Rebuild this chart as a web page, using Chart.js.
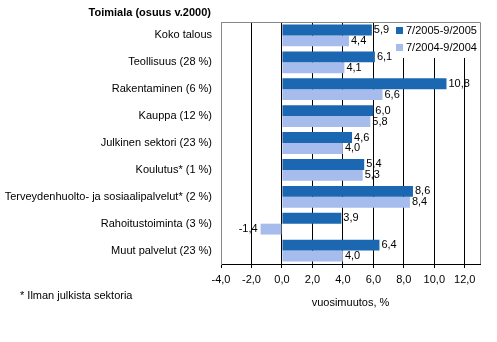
<!DOCTYPE html>
<html>
<head>
<meta charset="utf-8">
<script src="https://cdn.jsdelivr.net/npm/chart.js@4"></script>
<style>
  body { margin: 0; background: #fff; }
  #wrap { width: 497px; height: 342px; }
</style>
</head>
<body>
<div id="wrap"><canvas id="kuvio" width="497" height="342"></canvas></div>
<script>
// toimialat ja vuosimuutokset
let toimialat = ['Koko talous', 'Teollisuus (28 %)', 'Rakentaminen (6 %)', 'Kauppa (12 %)',
    'Julkinen sektori (23 %)', 'Koulutus* (1 %)', 'Terveydenhuolto- ja sosiaalipalvelut* (2 %)',
    'Rahoitustoiminta (3 %)', 'Muut palvelut (23 %)'];
let jakso2005 = [5.9, 6.1, 10.8, 6.0, 4.6, 5.4, 8.6, 3.9, 6.4];
let jakso2004 = [4.4, 4.1, 6.6, 5.8, 4.0, 5.3, 8.4, -1.4, 4.0];
let sarjat = ['7/2005-9/2005', '7/2004-9/2004'];
let xTicks = [-4, -2, 0, 2, 4, 6, 8, 10, 12];

const fontti = "'Liberation Sans', Arial, sans-serif";
const pilkku = v => v.toFixed(1).replace('.', ',');

// arvot palkkien päihin, selite ja tekstit
const tekstit = {
    id: 'tekstit',
    afterDatasetsDraw(chart) {
        let ctx = chart.ctx;
        ctx.save();
        ctx.font = '11px ' + fontti;
        ctx.fillStyle = '#000';
        ctx.textBaseline = 'middle';
        chart.data.datasets.forEach((ds, i) => {
            chart.getDatasetMeta(i).data.forEach((bar, j) => {
                let v = ds.data[j];
                if (v < 0) {
                    ctx.textAlign = 'right';
                    ctx.fillText(pilkku(v), bar.x - 3, bar.y);
                } else {
                    ctx.textAlign = 'left';
                    ctx.fillText(pilkku(v), bar.x + 2, bar.y);
                }
            });
        });

        let a = chart.chartArea;
        // kehys
        ctx.strokeStyle = '#888';
        ctx.lineWidth = 1;
        ctx.beginPath();
        ctx.moveTo(a.left, a.top + 0.5);
        ctx.lineTo(a.right + 0.5, a.top + 0.5);
        ctx.lineTo(a.right + 0.5, a.bottom);
        ctx.stroke();

        // selite
        ctx.fillStyle = '#fff';
        ctx.fillRect(a.right - 85, a.top + 1, 84, 35);
        chart.data.datasets.forEach((ds, i) => {
            let y = a.top + 9 + i * 17;
            ctx.fillStyle = ds.backgroundColor;
            ctx.fillRect(a.right - 84, y - 4, 7, 7);
            ctx.fillStyle = '#000';
            ctx.textAlign = 'left';
            ctx.fillText(ds.label, a.right - 74, y);
        });

        // otsikko ja alaviite
        ctx.font = 'bold 11px ' + fontti;
        ctx.textAlign = 'right';
        ctx.fillText('Toimiala (osuus v.2000)', 211, 13);
        ctx.font = '11px ' + fontti;
        ctx.textAlign = 'left';
        ctx.fillText('* Ilman julkista sektoria', 20, 296);
        ctx.restore();
    }
};

let kuvio = new Chart(document.getElementById('kuvio'), {
    type: 'bar',
    data: {
        labels: toimialat,
        datasets: [
            { label: sarjat[0], data: jakso2005, backgroundColor: '#1b67b1' },
            { label: sarjat[1], data: jakso2004, backgroundColor: '#a6bcec' }
        ]
    },
    options: {
        indexAxis: 'y',
        responsive: false,
        animation: false,
        layout: { padding: { top: 22, right: 17, left: 0, bottom: 0 } },
        datasets: { bar: { categoryPercentage: 0.81, barPercentage: 1 } },
        plugins: {
            legend: { display: false },
            tooltip: { enabled: false }
        },
        scales: {
            x: {
                min: -4,
                max: 13,
                afterBuildTicks: s => { s.ticks = xTicks.map(v => ({ value: v })); },
                afterFit: s => { s.height = 78; },
                border: { color: '#000' },
                grid: {
                    color: c => c.tick && c.tick.value === -4 ? 'rgba(0,0,0,0)' : '#000',
                    tickColor: '#000',
                    tickLength: 4
                },
                ticks: {
                    color: '#000',
                    padding: 5,
                    font: { family: fontti, size: 11 },
                    callback: v => pilkku(v)
                },
                title: {
                    display: true,
                    text: 'vuosimuutos, %',
                    color: '#000',
                    font: { family: fontti, size: 11 },
                    padding: { top: 0, bottom: 32 }
                }
            },
            y: {
                afterFit: s => { s.width = 221; },
                border: { color: '#888' },
                grid: { display: false, drawTicks: false },
                ticks: {
                    color: '#000',
                    padding: 9,
                    autoSkip: false,
                    font: { family: fontti, size: 11 }
                }
            }
        }
    },
    plugins: [tekstit]
});
</script>
</body>
</html>
